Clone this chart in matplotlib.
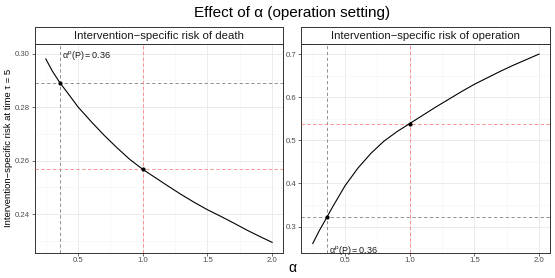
import numpy as np
import matplotlib
matplotlib.use("Agg")
import matplotlib.pyplot as plt
from matplotlib.ticker import FixedLocator

plt.rcParams['font.family'] = ['Liberation Sans', 'DejaVu Sans']
plt.rcParams['mathtext.fontset'] = 'custom'
plt.rcParams['mathtext.rm'] = 'Liberation Sans'

# --- data ------------------------------------------------------------------
alpha = [0.25, 0.30, 0.36, 0.40, 0.50, 0.60, 0.70, 0.80, 0.90, 1.00,
         1.10, 1.20, 1.30, 1.40, 1.50, 1.60, 1.70, 1.80, 1.90, 2.00]
risk_death = [0.2980, 0.2935, 0.2890, 0.2865, 0.2800, 0.2746, 0.2695, 0.2648,
              0.2604, 0.2567, 0.2535, 0.2503, 0.2472, 0.2443, 0.2416, 0.2392,
              0.2367, 0.2341, 0.2317, 0.2294]
risk_oper = [0.261, 0.2905, 0.3223, 0.344, 0.395, 0.436, 0.470, 0.498,
             0.520, 0.539, 0.558, 0.577, 0.595, 0.613, 0.630, 0.645,
             0.660, 0.674, 0.687, 0.700]
alpha_p = 0.36
alpha_ref = 1.0

panel_titles = ["Intervention\u2212specific risk of death",
                "Intervention\u2212specific risk of operation"]
y_major = [[0.24, 0.26, 0.28, 0.30], [0.3, 0.4, 0.5, 0.6, 0.7]]
y_minor = [[0.23, 0.25, 0.27, 0.29], [0.25, 0.35, 0.45, 0.55, 0.65]]
y_labels = [["0.24", "0.26", "0.28", "0.30"], ["0.3", "0.4", "0.5", "0.6", "0.7"]]
y_lims = [(0.2256, 0.3036), (0.240, 0.7233)]
x_major = [0.5, 1.0, 1.5, 2.0]
x_minor = [0.25, 0.75, 1.25, 1.75]
series = [risk_death, risk_oper]
label_y = [0.2993, 0.2442]

grey_dash = '#808080'
red_dash = '#ff8080'

fig = plt.figure(figsize=(5.55, 2.78), dpi=100)
# title and x label are centred over the panel area, as ggplot does
fig.text(0.527, 0.955, "Effect of \u03b1 (operation setting)", ha='center', va='center',
         fontsize=11)

lefts = [0.0622, 0.5432]
for i in range(2):
    ax = fig.add_axes([lefts[i], 0.0917, 0.4485, 0.75])
    vals = series[i]
    a_idx = alpha.index(alpha_p)
    r_idx = alpha.index(alpha_ref)

    ax.plot(alpha, vals, color='black', lw=0.8, zorder=4)
    ax.axvline(alpha_p, color=grey_dash, ls=(0, (4, 3)), lw=0.6, zorder=2)
    ax.axhline(vals[a_idx], color=grey_dash, ls=(0, (4, 3)), lw=0.6, zorder=2)
    ax.axvline(alpha_ref, color=red_dash, ls=(0, (4, 3)), lw=0.6, zorder=3)
    ax.axhline(vals[r_idx], color=red_dash, ls=(0, (4, 3)), lw=0.6, zorder=3)
    ax.scatter([alpha_p, alpha_ref], [vals[a_idx], vals[r_idx]], s=9,
               color='black', zorder=5, linewidths=0)
    ax.text(0.375, label_y[i], r'$\mathregular{\alpha^p(P) = 0.36}$', ha='left',
            va='center', fontsize=6.5, color='#1a1a1a', zorder=6)

    ax.set_xlim(0.1625, 2.0875)
    ax.set_ylim(*y_lims[i])
    ax.xaxis.set_major_locator(FixedLocator(x_major))
    ax.xaxis.set_minor_locator(FixedLocator(x_minor))
    ax.yaxis.set_major_locator(FixedLocator(y_major[i]))
    ax.yaxis.set_minor_locator(FixedLocator(y_minor[i]))
    ax.set_xticklabels(["0.5", "1.0", "1.5", "2.0"])
    ax.set_yticklabels(y_labels[i])
    ax.grid(which='major', color='#ebebeb', lw=0.7, zorder=0)
    ax.grid(which='minor', color='#f4f4f4', lw=0.45, zorder=0)
    ax.set_axisbelow(True)
    ax.tick_params(which='major', length=2, width=0.5, color='#333333',
                   labelsize=5.6, labelcolor='#4d4d4d', pad=1.5)
    ax.tick_params(which='minor', length=0)
    for sp in ax.spines.values():
        sp.set_color('#333333')
        sp.set_linewidth(0.7)

    # facet strip
    strip = fig.add_axes([lefts[i], 0.8417, 0.4485, 0.0612])
    strip.set_xticks([])
    strip.set_yticks([])
    strip.set_facecolor('white')
    for sp in strip.spines.values():
        sp.set_color('#333333')
        sp.set_linewidth(0.7)
    strip.text(0.5, 0.47, panel_titles[i], ha='center', va='center',
               fontsize=8.2, color='#1a1a1a', transform=strip.transAxes)

fig.text(0.016, 0.4667, "Intervention\u2212specific risk at time \u03c4 = 5",
         rotation=90, ha='center', va='center', fontsize=6.8)
fig.text(0.527, 0.035, "\u03b1", ha='center', va='center', fontsize=10)

fig.savefig("out.png", dpi=100)
